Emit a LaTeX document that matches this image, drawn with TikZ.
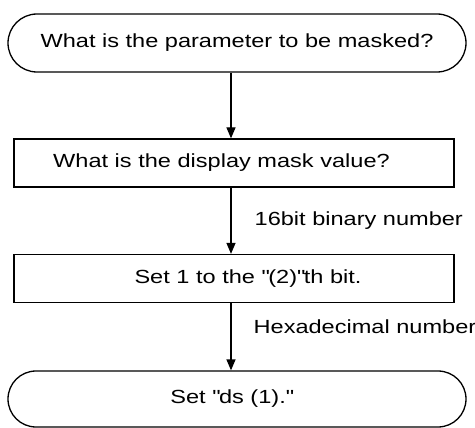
\documentclass[tikz,border=0pt]{standalone}
\usepackage{fontspec}
\setmainfont{Liberation Sans}[FakeStretch=1.24]
\usetikzlibrary{shapes.misc,arrows.meta}

\begin{document}
\begin{tikzpicture}[x=1pt,y=-1pt,
  term/.style={rounded rectangle,draw,line width=1.3pt,minimum width=458pt,minimum height=58pt,inner sep=0pt},
  procbox/.style={rectangle,draw,line width=1.3pt,minimum width=440pt,minimum height=48pt,inner sep=0pt},
  flow/.style={line width=1.3pt,-{Triangle[length=11pt,width=9pt]}},
  note/.style={anchor=west,inner sep=0pt},
  font=\fontsize{19}{23}\selectfont]
  \useasboundingbox (0,0) rectangle (475,428);
  \coordinate (spine) at (231,0);
  \node[term] (ask) at (237,43) {What is the parameter to be masked?};
  \node[procbox] (mask) at (234,163) {What is the display mask value?\hspace*{25pt}};
  \node[procbox] (setbit) at (234,278.5) {\hspace*{28pt}Set 1 to the \textquotedbl(2)\textquotedbl th bit.};
  \node[term,minimum height=56pt] (setds) at (237,399) {Set \textquotedbl ds (1).\textquotedbl\hspace*{11pt}};
  \draw[flow] (ask.south -| spine) -- (mask.north -| spine);
  \draw[flow] (mask.south -| spine) -- node[note,pos=0.5,xshift=23pt] {16bit binary number} (setbit.north -| spine);
  \draw[flow] (setbit.south -| spine) -- node[note,pos=0.35,xshift=22pt] {Hexadecimal number} (setds.north -| spine);
\end{tikzpicture}
\end{document}
